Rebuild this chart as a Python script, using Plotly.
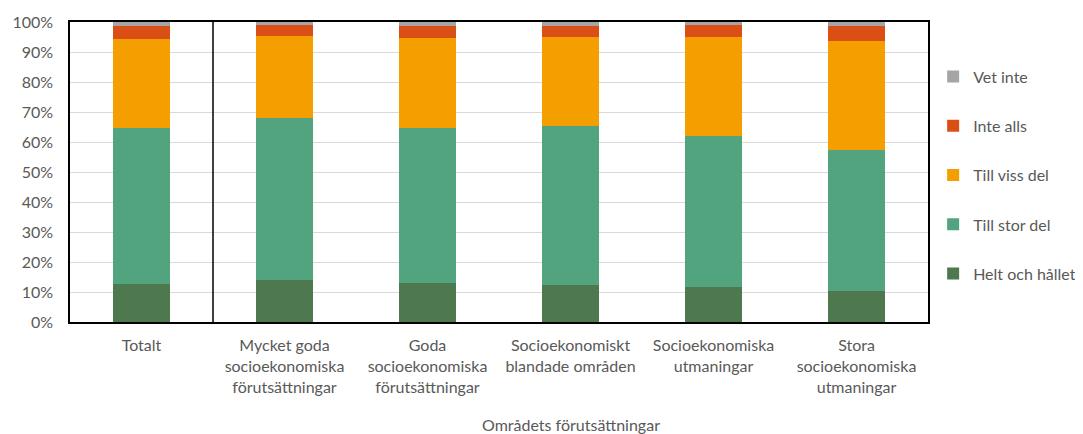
import plotly.graph_objects as go

categories = [
    "Totalt",
    "Mycket goda<br>socioekonomiska<br>förutsättningar",
    "Goda<br>socioekonomiska<br>förutsättningar",
    "Socioekonomiskt<br>blandade områden",
    "Socioekonomiska<br>utmaningar",
    "Stora<br>socioekonomiska<br>utmaningar",
]
helt_och_hallet = [12.6, 13.9, 12.9, 12.2, 11.6, 10.2]
till_stor_del = [52.2, 54.2, 51.9, 53.2, 50.5, 47.0]
till_viss_del = [29.6, 27.1, 29.8, 29.5, 32.8, 36.4]
inte_alls = [4.4, 3.7, 4.2, 3.9, 4.2, 5.1]
vet_inte = [1.2, 1.1, 1.2, 1.2, 0.9, 1.3]

series = [
    ("Helt och hållet", helt_och_hallet, "#4E784D"),
    ("Till stor del", till_stor_del, "#52A47F"),
    ("Till viss del", till_viss_del, "#F59E00"),
    ("Inte alls", inte_alls, "#DA4F15"),
    ("Vet inte", vet_inte, "#A5A5A5"),
]

FONT = "Lato, 'Open Sans', sans-serif"
GREY = "#595959"

fig = go.Figure()
n = len(series)
for i, (name, vals, col) in enumerate(series):
    fig.add_trace(go.Bar(
        x=categories, y=vals, name=name, legendgroup=name,
        legendrank=n - i,
        marker=dict(color=col, line=dict(width=0)),
    ))

fig.update_layout(
    barmode="stack",
    bargap=0.6,
    width=1075, height=426,
    margin=dict(l=62, r=155, t=14, b=112, autoexpand=False),
    plot_bgcolor="white", paper_bgcolor="white",
    font=dict(family=FONT, size=16, color=GREY),
    legend=dict(
        traceorder="grouped", tracegroupgap=25.5,
        x=1.006, xanchor="left", y=0.875, yanchor="top",
        font=dict(size=16, color=GREY), itemwidth=30,
    ),
    xaxis=dict(showline=True, linecolor="black", linewidth=1.5, mirror=True,
               tickfont=dict(size=16, color=GREY), ticks="",
               ticklabelstandoff=8),
    yaxis=dict(range=[0, 100], dtick=10, ticksuffix="%", showgrid=True,
               gridcolor="#D9D9D9", gridwidth=1, showline=True, linecolor="black",
               linewidth=1.5, mirror=True, tickfont=dict(size=16, color=GREY),
               zeroline=False, ticklabelstandoff=12),
    shapes=[dict(type="line", xref="x", yref="y", x0=0.5, x1=0.5, y0=0, y1=100,
                 line=dict(color="black", width=1.5))],
    annotations=[dict(text="Områdets förutsättningar", xref="paper", yref="paper",
                      x=0.584, y=-0.343, xanchor="center", yanchor="middle",
                      showarrow=False, font=dict(size=16, color=GREY))],
)

fig.write_html("out.html")
